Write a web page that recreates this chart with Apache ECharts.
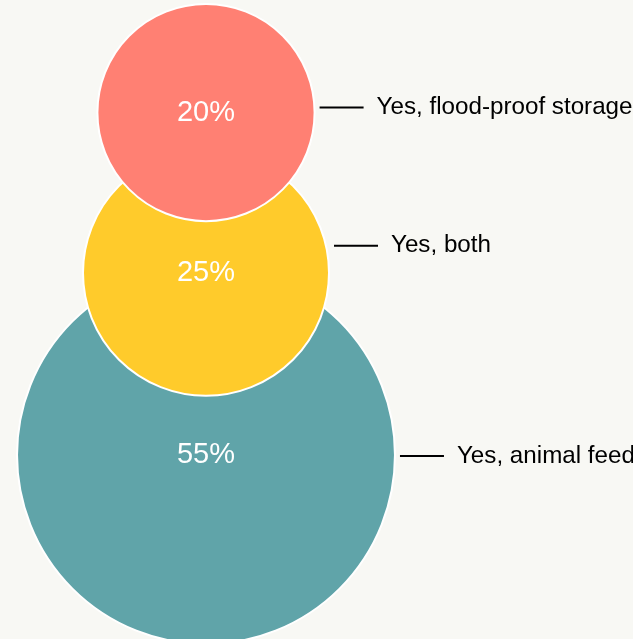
<!DOCTYPE html>
<html>
<head>
<meta charset="utf-8">
<title>Bubble stack</title>
<script src="https://cdn.jsdelivr.net/npm/echarts@6/dist/echarts.min.js"></script>
<style>
  html, body { margin: 0; padding: 0; background: #f8f8f4; }
  #chart { width: 633px; height: 639px; }
</style>
</head>
<body>
<div id="chart"></div>
<script>
// Answers, listed from the bottom bubble to the top one
const categories = ['Yes, animal feed', 'Yes, both', 'Yes, flood-proof storage'];
const shares = [55, 25, 20];
const colors = ['#60a4a9', '#ffcb2b', '#ff8073'];

// Bubble diameter grows with the square root of the share
function diameter(v) {
  return 54.6 * Math.sqrt(v) - 27;
}

// Layout: bubbles are stacked upward, each one overlapping the one below
const baseX = 206;
const baseY = 455;
const stackFactor = [0.584, 0.692];
const nameLabelDy = [1, -27, -5];

const centers = [];
shares.forEach((v, i) => {
  if (i === 0) {
    centers.push([baseX, baseY]);
  } else {
    const prev = centers[i - 1];
    const step = (diameter(shares[i - 1]) + diameter(v)) / 2 * stackFactor[i - 1];
    centers.push([baseX, prev[1] - step]);
  }
});

const bubbleData = shares.map((v, i) => ({
  name: categories[i],
  value: [centers[i][0], centers[i][1], v],
  itemStyle: { color: colors[i] }
}));

const nameData = shares.map((v, i) => ({
  name: categories[i],
  value: [centers[i][0], centers[i][1], v],
  label: { offset: [0, nameLabelDy[i]] }
}));

const font = '"Liberation Sans", Arial, Helvetica, sans-serif';

const chart = echarts.init(document.getElementById('chart'), null, { renderer: 'canvas' });
chart.setOption({
  backgroundColor: '#f8f8f4',
  animation: false,
  grid: { left: 0, right: 0, top: 0, bottom: 0 },
  xAxis: { type: 'value', min: 0, max: 633, show: false },
  yAxis: { type: 'value', min: 0, max: 639, inverse: true, show: false },
  series: [
    {
      type: 'scatter',
      data: bubbleData,
      symbolSize: (val) => diameter(val[2]),
      itemStyle: { borderColor: '#ffffff', borderWidth: 2, opacity: 1 },
      label: {
        show: true,
        position: 'inside',
        formatter: (p) => p.value[2] + '%',
        color: '#ffffff',
        fontSize: 29,
        fontFamily: font
      },
      emphasis: { disabled: true },
      z: 2
    },
    {
      type: 'scatter',
      data: nameData,
      symbolSize: (val) => diameter(val[2]),
      itemStyle: { color: 'transparent', borderWidth: 0, opacity: 1 },
      label: {
        show: true,
        position: 'right',
        distance: 5,
        opacity: 1,
        formatter: (p) => '{ln|}{sp|}{tx|' + p.name + '}',
        rich: {
          ln: { width: 44, height: 2, backgroundColor: '#000000', verticalAlign: 'middle' },
          sp: { width: 13, height: 2, verticalAlign: 'middle' },
          tx: { color: '#000000', fontSize: 24.2, fontFamily: font, verticalAlign: 'middle' }
        }
      },
      emphasis: { disabled: true },
      silent: true,
      z: 1
    }
  ]
});
</script>
</body>
</html>
